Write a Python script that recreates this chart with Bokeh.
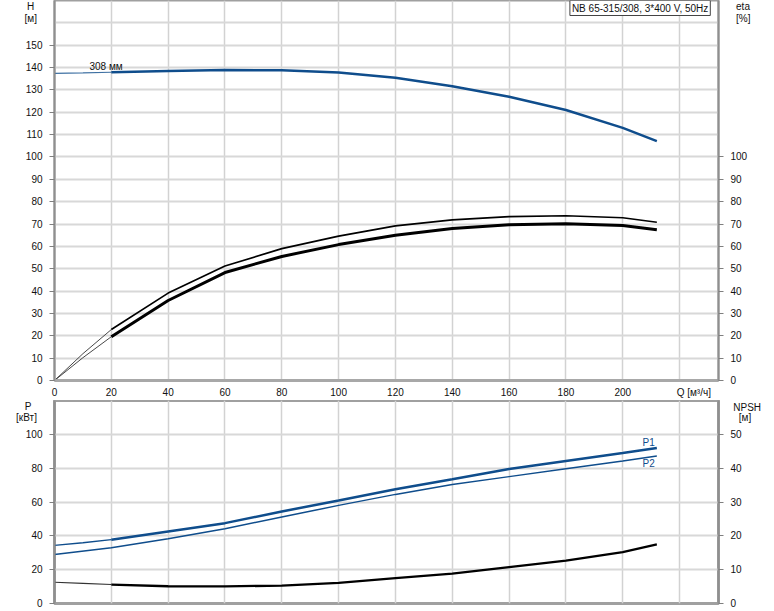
from bokeh.plotting import figure
from bokeh.models import Range1d, LinearAxis, FixedTicker, Label
from bokeh.layouts import column
from bokeh.embed import file_html
from bokeh.resources import INLINE

# ---------------- data ----------------
q_start = [0, 10, 20]
q_main = [20, 40, 60, 80, 100, 120, 140, 160, 180, 200, 212]

h_start = [137.4, 137.6, 137.9]
h_main = [137.9, 138.5, 138.9, 138.8, 137.8, 135.4, 131.6, 126.9, 121.0, 113.0, 107.1]

eta_p_start = [0, 12.0, 22.8]
eta_p_main = [22.8, 39.1, 51.2, 59.0, 64.6, 69.2, 71.9, 73.3, 73.7, 72.8, 70.8]

eta_t_start = [0, 10.2, 19.6]
eta_t_main = [19.6, 35.8, 48.3, 55.5, 60.8, 65.0, 68.0, 69.7, 70.1, 69.3, 67.4]

p1_start = [34.3, 35.9, 37.7]
p1_main = [37.7, 42.6, 47.5, 54.4, 60.9, 67.5, 73.4, 79.5, 84.3, 89.0, 91.9]

p2_all_q = [0, 20, 40, 60, 80, 100, 120, 140, 160, 180, 200, 212]
p2_all = [29.0, 33.0, 38.3, 44.2, 51.1, 58.0, 64.5, 70.4, 75.0, 79.6, 84.3, 87.2]

npsh_start = [6.3, 5.95, 5.6]
npsh_main = [5.6, 5.1, 5.05, 5.3, 6.1, 7.5, 8.8, 10.75, 12.7, 15.2, 17.45]

x_ticks = [0, 20, 40, 60, 80, 100, 120, 140, 160, 180, 200]
x_grid = [20, 40, 60, 80, 100, 120, 140, 160, 180, 200, 220]
h_ticks = list(range(0, 151, 10))
eta_ticks = list(range(0, 101, 10))
top_grid = list(range(10, 170, 10))
p_ticks = [0, 20, 40, 60, 80, 100]
npsh_ticks = [0, 10, 20, 30, 40, 50]
bot_grid = [20, 40, 60, 80, 100]

title_text = "NB 65-315/308, 3*400 V, 50Hz"
NB = "\u00a0"

BLUE = "#0f4d8c"
FONT = "Liberation Sans"
FS = "10px"
XMAX = 233.7


def style_axis(ax, line_w=2, color="#8f8f8f", tick_out=5, standoff=7):
    ax.axis_line_color = color
    ax.axis_line_width = line_w
    ax.major_tick_out = 0
    ax.major_tick_in = 0
    ax.minor_tick_line_color = "#7f7f7f"
    ax.minor_tick_out = tick_out
    ax.minor_tick_in = 0
    ax.major_label_text_font = FONT
    ax.major_label_text_font_size = FS
    ax.major_label_text_color = "#111111"
    ax.major_label_standoff = standoff


def style_fig(p):
    p.background_fill_color = "white"
    p.border_fill_color = "white"
    p.outline_line_color = "#a0a0a0"
    p.outline_line_width = 2
    p.xgrid.grid_line_color = "#d2d2d2"
    p.xgrid.grid_line_width = 1.5
    p.ygrid.grid_line_color = "#d8d8d8"
    p.ygrid.grid_line_width = 2


def lab(p, x, y, text, align="center", color="#111111"):
    p.add_layout(Label(x=x, y=y, text=text, text_font=FONT, text_font_size=FS,
                       text_color=color, text_align=align, text_baseline="middle"))


# ---------------- top figure ----------------
top = figure(width=766, height=400, x_range=Range1d(0, XMAX), y_range=Range1d(0, 170),
             output_backend="svg", toolbar_location=None,
             min_border_left=54, min_border_right=48, min_border_top=0, min_border_bottom=19)
style_fig(top)
top.extra_y_ranges = {"eta": Range1d(0, 170)}
eta_axis = LinearAxis(y_range_name="eta",
                      ticker=FixedTicker(ticks=eta_ticks + [162, 168], minor_ticks=eta_ticks))
eta_axis.major_label_overrides = {168: NB * 2 + "eta", 162: NB * 2 + "[%]"}
top.add_layout(eta_axis, "right")
top.yaxis[0].ticker = FixedTicker(ticks=h_ticks + [162, 168], minor_ticks=h_ticks)
top.yaxis[0].major_label_overrides = {168: "H" + NB * 3, 162: "[м]" + NB * 2}
top.xaxis[0].ticker = FixedTicker(ticks=x_ticks + [225], minor_ticks=[])
top.xaxis[0].major_label_overrides = {225: "Q [м³/ч]"}
top.xgrid.ticker = FixedTicker(ticks=x_grid)
top.ygrid.ticker = FixedTicker(ticks=top_grid)
for ax in top.yaxis:
    style_axis(ax)
style_axis(top.xaxis[0], line_w=3, color="#a8a8a8", tick_out=0, standoff=6)

top.line(q_start, h_start, line_color=BLUE, line_width=1.2, line_alpha=0.8)
top.line(q_main, h_main, line_color=BLUE, line_width=2.5)
top.line(q_start, eta_p_start, line_color="#333333", line_width=0.9, y_range_name="eta")
top.line(q_main, eta_p_main, line_color="black", line_width=1.7, y_range_name="eta")
top.line(q_start, eta_t_start, line_color="#333333", line_width=0.9, y_range_name="eta")
top.line(q_main, eta_t_main, line_color="black", line_width=3, y_range_name="eta")

lab(top, 12.3, 140.4, "308 мм", align="left")
top.add_layout(Label(x=181.4, y=170, text=title_text, text_font=FONT, text_font_size=FS,
                     text_color="#111111", text_align="left", text_baseline="top",
                     padding=2, border_line_color="#444444", border_line_width=1,
                     background_fill_color="white"))

# ---------------- bottom figure ----------------
bot = figure(width=766, height=208, x_range=Range1d(0, XMAX), y_range=Range1d(0, 120),
             output_backend="svg", toolbar_location=None,
             min_border_left=54, min_border_right=48, min_border_top=0, min_border_bottom=5)
style_fig(bot)
bot.outline_line_width = 3
bot.extra_y_ranges = {"npsh": Range1d(0, 60)}
npsh_axis = LinearAxis(y_range_name="npsh",
                       ticker=FixedTicker(ticks=npsh_ticks + [55, 58], minor_ticks=npsh_ticks))
npsh_axis.major_label_overrides = {58: NB + "NPSH", 55: NB * 3 + "[м]"}
bot.add_layout(npsh_axis, "right")
bot.yaxis[0].ticker = FixedTicker(ticks=p_ticks + [110, 117], minor_ticks=p_ticks)
bot.yaxis[0].major_label_overrides = {117: "P" + NB * 4, 110: "[кВт]" + NB * 2}
bot.xaxis.visible = False
bot.xgrid.ticker = FixedTicker(ticks=x_grid)
bot.ygrid.ticker = FixedTicker(ticks=bot_grid)
for ax in bot.yaxis:
    style_axis(ax)

bot.line(q_start, p1_start, line_color=BLUE, line_width=1.3)
bot.line(q_main, p1_main, line_color=BLUE, line_width=2.5)
bot.line(p2_all_q, p2_all, line_color=BLUE, line_width=1.5)
bot.line(q_start, npsh_start, line_color="#333333", line_width=1.1, y_range_name="npsh")
bot.line(q_main, npsh_main, line_color="black", line_width=2.3, y_range_name="npsh")

lab(bot, 209.1, 95.3, "P1", color=BLUE)
lab(bot, 209.1, 82.5, "P2", color=BLUE)

layout = column(top, bot, spacing=0)
open("out.html", "w").write(file_html(layout, INLINE))
